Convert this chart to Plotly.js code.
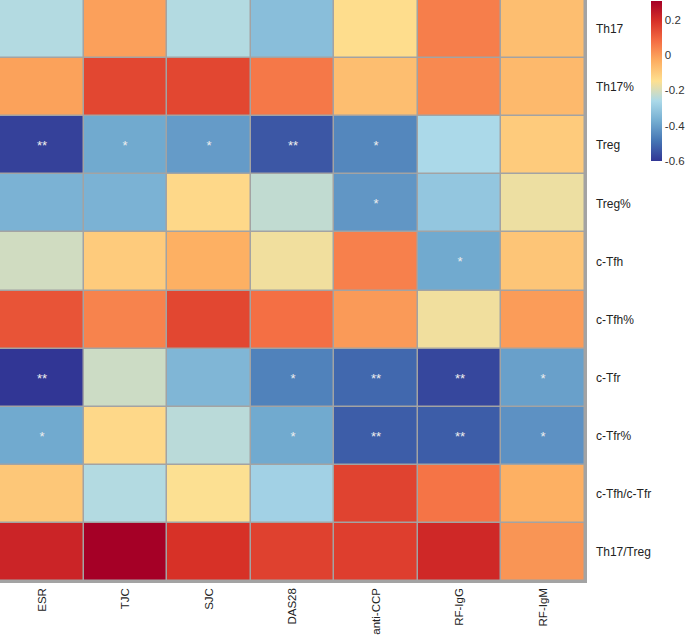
<!DOCTYPE html>
<html>
<head>
<meta charset="utf-8">
<script src="https://cdn.plot.ly/plotly-3.0.1.min.js"></script>
<style>html,body{margin:0;padding:0;background:#fff;}#chart{width:685px;height:636px;}</style>
</head>
<body>
<div id="chart"></div>
<script>
const columns = ["ESR", "TJC", "SJC", "DAS28", "anti-CCP", "RF-IgG", "RF-IgM"];
const rows = ["Th17", "Th17%", "Treg", "Treg%", "c-Tfh", "c-Tfh%", "c-Tfr", "c-Tfr%", "c-Tfh/c-Tfr", "Th17/Treg"];

const rTh17       = [-0.25, -0.01, -0.25, -0.33, -0.14,  0.05, -0.07];
const rTh17pct    = [-0.013, 0.15,  0.15,  0.06, -0.07,  0.03, -0.06];
const rTreg       = [-0.58, -0.38, -0.41, -0.54, -0.45, -0.26, -0.10];
const rTregpct    = [-0.36, -0.36, -0.13, -0.23, -0.42, -0.31, -0.17];
const rcTfh       = [-0.21, -0.10, -0.04, -0.165, 0.045, -0.38, -0.087];
const rcTfhpct    = [ 0.126, 0.04,  0.15,  0.075, 0.00, -0.165, -0.003];
const rcTfr       = [-0.60, -0.215, -0.35, -0.46, -0.51, -0.57, -0.40];
const rcTfrpct    = [-0.38, -0.13, -0.24, -0.38, -0.53, -0.53, -0.43];
const rcTfhcTfr   = [-0.09, -0.25, -0.15, -0.28,  0.156, 0.066, -0.04];
const rTh17Treg   = [ 0.22,  0.305, 0.19,  0.16,  0.165, 0.21,  0.01];

const sTh17       = ["", "", "", "", "", "", ""];
const sTh17pct    = ["", "", "", "", "", "", ""];
const sTreg       = ["**", "*", "*", "**", "*", "", ""];
const sTregpct    = ["", "", "", "", "*", "", ""];
const scTfh       = ["", "", "", "", "", "*", ""];
const scTfhpct    = ["", "", "", "", "", "", ""];
const scTfr       = ["**", "", "", "*", "**", "**", "*"];
const scTfrpct    = ["*", "", "", "*", "**", "**", "*"];
const scTfhcTfr   = ["", "", "", "", "", "", ""];
const sTh17Treg   = ["", "", "", "", "", "", ""];

const colorbarTicks = [-0.6, -0.4, -0.2, 0, 0.2];
const colorbarTickText = ["-0.6", "-0.4", "-0.2", "0", "0.2"];

const z = [rTh17, rTh17pct, rTreg, rTregpct, rcTfh, rcTfhpct, rcTfr, rcTfrpct, rcTfhcTfr, rTh17Treg];
const sig = [sTh17, sTh17pct, sTreg, sTregpct, scTfh, scTfhpct, scTfr, scTfrpct, scTfhcTfr, sTh17Treg];

const palette = [
  [0.000, "#313695"], [0.125, "#4575b4"], [0.250, "#74add1"], [0.375, "#abd9e9"],
  [0.500, "#fee090"], [0.625, "#fdae61"], [0.750, "#f46d43"], [0.875, "#d73027"],
  [1.000, "#a50026"]
];

const trace = {
  type: "heatmap",
  x: columns,
  y: rows,
  z: z,
  text: sig,
  texttemplate: "%{text}",
  textfont: {color: "#eeeeee", size: 13, family: "Liberation Sans, Arial, sans-serif"},
  colorscale: palette,
  xgap: 1.5,
  ygap: 1.5,
  hoverongaps: false,
  colorbar: {
    xref: "container", yref: "container",
    x: 651/685, xanchor: "left",
    y: 1 - 1/636, yanchor: "top",
    thickness: 11, thicknessmode: "pixels",
    len: 160, lenmode: "pixels",
    outlinewidth: 0, xpad: 0, ypad: 0,
    tickvals: colorbarTicks, ticktext: colorbarTickText,
    ticks: "", ticklen: 0,
    tickfont: {size: 11.5, color: "#333333", family: "Liberation Sans, Arial, sans-serif"}
  }
};

const layout = {
  width: 685, height: 636,
  margin: {l: 0, r: 100, t: 0, b: 55, pad: 0},
  paper_bgcolor: "#ffffff",
  plot_bgcolor: "#a3a3a3",
  showlegend: false,
  xaxis: {
    type: "category",
    tickangle: -90,
    ticks: "", showgrid: false, zeroline: false,
    showline: true, linecolor: "#a3a3a3", linewidth: 1.5, mirror: true,
    tickfont: {size: 11.5, color: "#222222", family: "Liberation Sans, Arial, sans-serif"},
    ticklabelstandoff: 1
  },
  yaxis: {
    type: "category",
    autorange: "reversed",
    side: "right",
    ticks: "", showgrid: false, zeroline: false,
    showline: true, linecolor: "#a3a3a3", linewidth: 1.5, mirror: true,
    tickfont: {size: 12, color: "#222222", family: "Liberation Sans, Arial, sans-serif"},
    ticklabelstandoff: 7
  }
};

Plotly.newPlot("chart", [trace], layout, {displayModeBar: false, staticPlot: true});
</script>
</body>
</html>
